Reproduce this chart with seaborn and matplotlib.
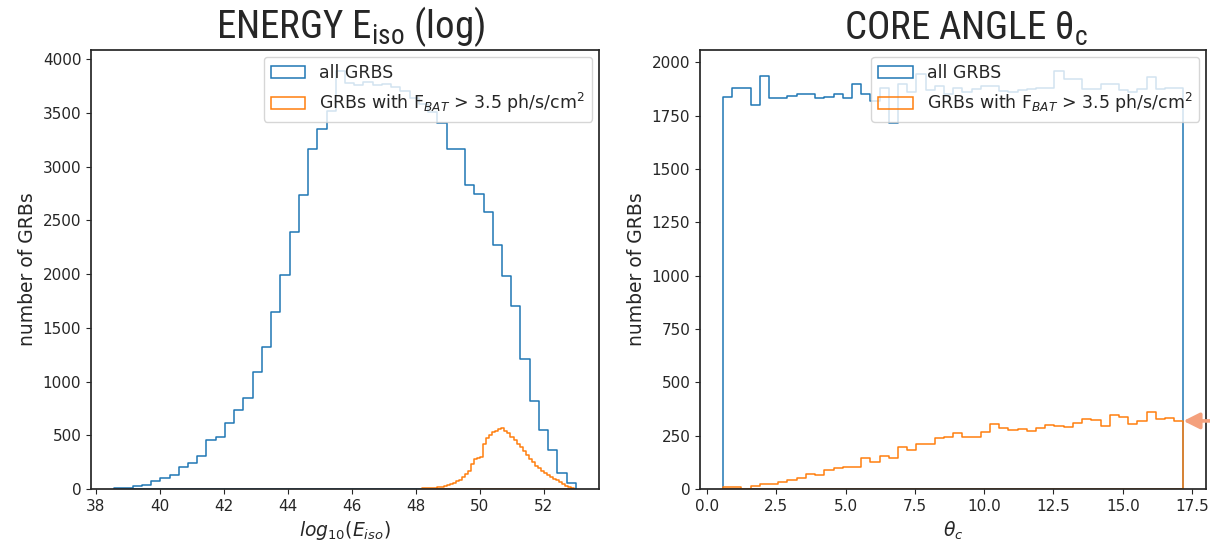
import numpy as np
import matplotlib
matplotlib.use("Agg")
import matplotlib.pyplot as plt
from matplotlib import font_manager
import seaborn as sns

# ---------------- data ----------------
# log10(E_iso): 50 bins for all GRBs, 50 bins for the bright subsample
eiso_range_all = (38.57, 53.0)
eiso_range_bright = (48.2, 52.95)
eiso_all_counts = [8, 12, 25, 40, 78, 103, 131, 202, 240, 311,
                   452, 483, 617, 732, 850, 1084, 1324, 1651, 1994, 2389,
                   2735, 3162, 3349, 3520, 3890, 3780, 3760, 3790, 3760, 3770,
                   3740, 3700, 3640, 3580, 3511, 3402, 3168, 3168, 2832, 2748,
                   2576, 2271, 1984, 1704, 1206, 816, 551, 364, 146, 53]
eiso_bright_counts = [5, 6, 8, 10, 12, 15, 22, 30, 38, 46,
                      58, 72, 88, 110, 135, 165, 230, 275, 290, 300,
                      420, 475, 500, 530, 540, 555, 570, 535, 520, 480,
                      455, 420, 390, 355, 315, 280, 255, 215, 200, 170,
                      150, 130, 110, 95, 80, 62, 45, 30, 20, 10]

# core angle theta_c in degrees (0.01 - 0.3 rad)
theta_range = (0.573, 17.19)
theta_all_counts = [1837, 1881, 1881, 1800, 1936, 1834, 1834, 1840, 1850, 1853,
                    1834, 1836, 1853, 1830, 1897, 1850, 1818, 1881, 1713, 1897,
                    1858, 1945, 1870, 1890, 1850, 1880, 1860, 1875, 1889, 1889,
                    1865, 1860, 1870, 1873, 1880, 1880, 1959, 1920, 1920, 1873,
                    1873, 1897, 1897, 1870, 1860, 1873, 1931, 1873, 1881, 1881]
theta_bright_counts = [8, 8, 2, 14, 22, 25, 34, 41, 53, 69,
                       66, 89, 97, 103, 105, 144, 128, 156, 144, 199,
                       183, 210, 210, 238, 242, 261, 242, 242, 269, 303,
                       288, 277, 282, 272, 288, 300, 297, 289, 308, 329,
                       324, 297, 347, 336, 305, 319, 360, 329, 333, 319]

label_all = "all GRBS"
label_bright = r"GRBs with F$_{BAT}$ > 3.5 ph/s/cm$^2$"

# ---------------- style ----------------
sns.set_style("ticks")
plt.rcParams.update({
    "font.family": ["DejaVu Sans"],
    "axes.edgecolor": "#262626",
    "axes.linewidth": 1.25,
    "xtick.major.size": 3.5,
    "ytick.major.size": 3.5,
    "xtick.labelsize": 11,
    "ytick.labelsize": 11,
    "xtick.color": "#262626",
    "ytick.color": "#262626",
    "axes.labelsize": 13.5,
    "patch.linewidth": 1.0,
})


def pick_font(candidates):
    for name in candidates:
        try:
            font_manager.findfont(font_manager.FontProperties(family=name),
                                  fallback_to_default=False)
            return name
        except Exception:
            continue
    return "DejaVu Sans"


title_font = pick_font(["Liberation Sans Narrow", "Roboto Condensed", "Liberation Sans"])
plt.rcParams["mathtext.rm"] = title_font

BLUE = "#1f77b4"
ORANGE = "#ff7f0e"


def step_hist(ax, rng, counts, color, label):
    n = len(counts)
    edges = np.linspace(rng[0], rng[1], n + 1)
    centers = 0.5 * (edges[:-1] + edges[1:])
    sns.histplot(x=centers, weights=counts, bins=n, binrange=rng,
                 element="step", fill=True, facecolor="none", color=color,
                 linewidth=1.1, label=label, ax=ax)
    return edges


fig = plt.figure(figsize=(12.1, 5.44), dpi=100)
W, H = 1210, 544
ax1 = fig.add_axes([91 / W, 55 / H, 508 / W, 439 / H])
ax2 = fig.add_axes([700 / W, 55 / H, 506.4 / W, 439 / H])

# energy panel
step_hist(ax1, eiso_range_all, eiso_all_counts, BLUE, label_all)
step_hist(ax1, eiso_range_bright, eiso_bright_counts, ORANGE, label_bright)
ax1.set_xlabel(r"$log_{10}(E_{iso})$")
ax1.set_ylabel("number of GRBs")
ax1.set_yticks(np.arange(0, 4001, 500))
ax1.set_xticks(np.arange(38, 53, 2))

# core angle panel
step_hist(ax2, theta_range, theta_all_counts, BLUE, label_all)
edges_t = step_hist(ax2, theta_range, theta_bright_counts, ORANGE, label_bright)
ax2.set_xlabel(r"$\theta_c$")
ax2.set_ylabel("number of GRBs")
ax2.set_yticks(np.arange(0, 2001, 250))
ax2.set_xticks(np.arange(0, 17.6, 2.5))

for ax in (ax1, ax2):
    ax.set_ylim(bottom=0)
    ax.legend(loc="upper right", fontsize=12.5, framealpha=0.8,
              borderaxespad=0.4)
    ax.tick_params(direction="out")

# arrow marking the last bright-sample bin
ax2.annotate("", xy=(edges_t[-1], theta_bright_counts[-1]), xycoords="data",
             xytext=(32, 0), textcoords="offset pixels",
             arrowprops=dict(arrowstyle="-|>", color="#f4a07c", lw=2.6,
                             mutation_scale=24, shrinkA=0, shrinkB=0),
             annotation_clip=False)

# panel headings
fig.text(351 / W, 1 - 38 / H, r"ENERGY E$_{\rm iso}$ (log)", family=title_font,
         fontsize=28, ha="center", va="baseline", math_fontfamily="custom")
fig.text(966 / W, 1 - 40 / H, r"CORE ANGLE θ$_{\rm c}$", family=title_font,
         fontsize=28, ha="center", va="baseline", math_fontfamily="custom")

fig.savefig("out.png", dpi=100)
